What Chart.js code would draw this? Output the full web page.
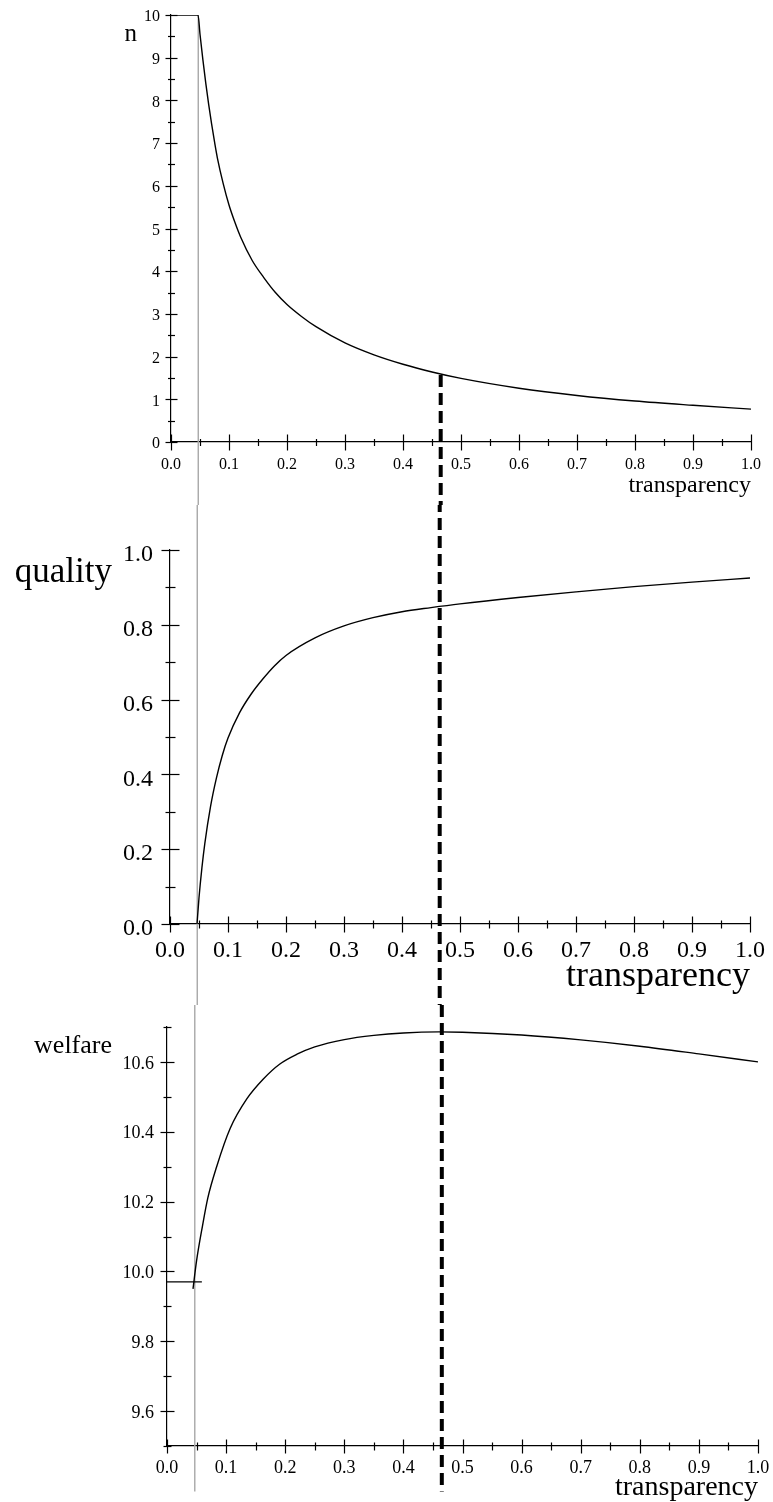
<!DOCTYPE html>
<html>
<head>
<meta charset="utf-8">
<script src="https://cdn.jsdelivr.net/npm/chart.js@4.4.1/dist/chart.umd.min.js"></script>
<style>
  html, body { margin: 0; padding: 0; background: #fff; }
  body { width: 773px; height: 1502px; position: relative; overflow: hidden; }
  canvas { position: absolute; left: 0; }
</style>
</head>
<body>
<canvas id="cN" width="773" height="505" style="top:0px"></canvas>
<canvas id="cQ" width="773" height="500" style="top:505px"></canvas>
<canvas id="cW" width="773" height="497" style="top:1005px"></canvas>
<script>
// ---------- data ----------
const nX = [0, 0.0466, 0.05, 0.055, 0.06, 0.065, 0.07, 0.076, 0.08, 0.09, 0.1, 0.11, 0.12, 0.14, 0.16, 0.18, 0.2, 0.225, 0.25, 0.3, 0.35, 0.4, 0.45, 0.5, 0.6, 0.7, 0.8, 0.9, 1.0];
const nY = [10, 10, 9.55, 8.95, 8.4, 7.9, 7.45, 6.95, 6.65, 6.05, 5.55, 5.15, 4.8, 4.25, 3.85, 3.5, 3.22, 2.94, 2.7, 2.32, 2.04, 1.82, 1.64, 1.49, 1.26, 1.09, 0.96, 0.86, 0.77];

const qX = [0.0466, 0.05, 0.055, 0.06, 0.07, 0.08, 0.09, 0.1, 0.12, 0.14, 0.16, 0.18, 0.2, 0.25, 0.3, 0.35, 0.4, 0.45, 0.5, 0.6, 0.7, 0.8, 0.9, 1.0];
const qY = [0, 0.07, 0.15, 0.215, 0.315, 0.39, 0.45, 0.497, 0.565, 0.615, 0.655, 0.69, 0.718, 0.765, 0.797, 0.819, 0.835, 0.846, 0.856, 0.873, 0.888, 0.902, 0.914, 0.925];

const wX = [0.044, 0.05, 0.06, 0.069, 0.084, 0.107, 0.135, 0.163, 0.191, 0.22, 0.25, 0.3, 0.35, 0.4, 0.46, 0.5, 0.6, 0.7, 0.8, 0.9, 1.0];
const wY = [9.95, 10.03, 10.13, 10.21, 10.30, 10.41, 10.494, 10.551, 10.594, 10.622, 10.643, 10.664, 10.676, 10.683, 10.686, 10.685, 10.677, 10.663, 10.645, 10.623, 10.60];

const wFloorX = [0, 0.059];
const wFloorY = [9.97, 9.97];

const thresholdX = 0.047;   // grey vertical line
const optimumX = 0.465;     // dashed vertical line
const optimumN = 1.57;      // where dashed line starts on n curve

const xTickLabels = ['0.0','0.1','0.2','0.3','0.4','0.5','0.6','0.7','0.8','0.9','1.0'];
const nTickLabels = ['0','1','2','3','4','5','6','7','8','9','10'];
const qTickLabels = ['0.0','0.2','0.4','0.6','0.8','1.0'];
const wTickLabels = ['9.6','9.8','10.0','10.2','10.4','10.6'];

// ---------- helpers ----------
const SERIF = '"Liberation Serif", "Times New Roman", serif';
const pts = (xs, ys) => xs.map((x, i) => ({ x, y: ys[i] }));

const crossTicks = {
  id: 'crossTicks',
  afterDraw(chart, args, o) {
    const ctx = chart.ctx;
    const xs = chart.scales.x, ys = chart.scales.y;
    const ca = chart.chartArea;
    const ay = Math.round(ca.bottom) + 0.5, ax = Math.round(ca.left) + 0.5;
    ctx.save();
    ctx.strokeStyle = '#000';
    ctx.lineWidth = 1.2;
    xs.ticks.forEach(t => {
      const p = Math.round(xs.getPixelForValue(t.value)) + 0.5;
      const len = t.label !== '' ? o.xMajor : o.xMinor;
      ctx.beginPath(); ctx.moveTo(p, ay - len); ctx.lineTo(p, ay + len); ctx.stroke();
    });
    ys.ticks.forEach(t => {
      const p = Math.round(ys.getPixelForValue(t.value)) + 0.5;
      const len = t.label !== '' ? o.yMajor : o.yMinor;
      ctx.beginPath(); ctx.moveTo(ax - len, p); ctx.lineTo(ax + len, p); ctx.stroke();
    });
    ctx.fillStyle = '#000';
    ctx.font = o.titleSize + 'px ' + SERIF;
    ctx.textAlign = 'right';
    ctx.textBaseline = 'alphabetic';
    ctx.fillText(o.title, ca.left - o.titleDx, ca.top + o.titleDy);
    ctx.restore();
  }
};

function labelFrom(list, digits) {
  return v => {
    const s = v.toFixed(digits);
    if (Math.abs(parseFloat(s) - v) > 1e-6) return '';
    return list.includes(s) ? s : '';
  };
}

function makeChart(id, cfg) {
  return new Chart(document.getElementById(id), {
    type: 'line',
    data: { datasets: cfg.datasets },
    plugins: [crossTicks],
    options: {
      responsive: false,
      maintainAspectRatio: false,
      animation: false,
      layout: { padding: cfg.padding, autoPadding: false },
      elements: { point: { radius: 0, hoverRadius: 0 }, line: { borderCapStyle: 'butt' } },
      plugins: {
        legend: { display: false },
        tooltip: { enabled: false },
        crossTicks: cfg.ticksOpt
      },
      scales: {
        x: {
          type: 'linear', min: 0, max: 1,
          grid: { display: false, drawTicks: false, tickLength: 0 },
          border: { display: true, color: '#000', width: 1.2 },
          ticks: {
            stepSize: 0.05, autoSkip: false, maxRotation: 0, color: '#000',
            font: { family: SERIF, size: cfg.xFont }, padding: cfg.xPad,
            callback: labelFrom(xTickLabels, 1)
          },
          title: {
            display: true, text: 'transparency', align: 'end', color: '#000',
            font: { family: SERIF, size: cfg.xTitleSize, lineHeight: 1 },
            padding: { top: 0, bottom: cfg.xTitlePad }
          },
          afterFit: s => { s.height = cfg.xHeight; s.paddingLeft = 0; s.paddingRight = 0; }
        },
        y: {
          type: 'linear', min: cfg.yMin, max: cfg.yMax,
          grid: { display: false, drawTicks: false, tickLength: 0 },
          border: { display: true, color: '#000', width: 1.2 },
          ticks: {
            stepSize: cfg.yStep, autoSkip: false, color: '#000',
            font: { family: SERIF, size: cfg.yFont }, padding: cfg.yPad,
            labelOffset: cfg.yLabelOffset,
            callback: labelFrom(cfg.yLabels, cfg.yDigits)
          },
          afterFit: s => { s.width = cfg.yWidth; s.paddingTop = 0; s.paddingBottom = 0; }
        }
      }
    }
  });
}

const curveStyle = { borderColor: '#000', borderWidth: 1.4, fill: false, cubicInterpolationMode: 'monotone' };
const greyStyle = { borderColor: '#a8a8a8', borderWidth: 1.4, fill: false, clip: false, order: 5 };
const dashStyle = { borderColor: '#000', borderWidth: 4, borderDash: [12, 6], fill: false, clip: false, order: 0 };

// ---------- top: n ----------
makeChart('cN', {
  padding: { top: 15, right: 22, bottom: 0, left: 0 },
  yWidth: 171, xHeight: 63,
  yMin: 0, yMax: 10, yStep: 0.5, yLabels: nTickLabels, yDigits: 0,
  xFont: 16, yFont: 16, xPad: 13, yPad: 11, yLabelOffset: 2,
  xTitleSize: 24, xTitlePad: 7,
  ticksOpt: { xMajor: 8, xMinor: 3.5, yMajor: 6, yMinor: 3.5, title: 'n', titleSize: 25, titleDx: 34, titleDy: 26 },
  datasets: [
    { ...greyStyle, data: [{ x: thresholdX, y: 10 }, { x: thresholdX, y: -5 }] },
    { ...curveStyle, order: 1, data: pts(nX, nY) },
    { ...dashStyle, data: [{ x: optimumX, y: optimumN }, { x: optimumX, y: -5 }] }
  ]
});

// ---------- middle: quality ----------
makeChart('cQ', {
  padding: { top: 45, right: 23, bottom: 0, left: 0 },
  yWidth: 170, xHeight: 81,
  yMin: 0, yMax: 1, yStep: 0.1, yLabels: qTickLabels, yDigits: 1,
  xFont: 24, yFont: 24, xPad: 12, yPad: 17, yLabelOffset: 5,
  xTitleSize: 36, xTitlePad: 10,
  ticksOpt: { xMajor: 8, xMinor: 4, yMajor: 9, yMinor: 5, title: 'quality', titleSize: 35, titleDx: 58, titleDy: 32 },
  datasets: [
    { ...greyStyle, data: [{ x: thresholdX, y: 2 }, { x: thresholdX, y: -2 }] },
    { ...curveStyle, order: 1, data: pts(qX, qY) },
    { ...dashStyle, data: [{ x: optimumX, y: 2 }, { x: optimumX, y: -2 }] }
  ]
});

// ---------- bottom: welfare ----------
makeChart('cW', {
  padding: { top: 22, right: 15, bottom: 0, left: 0 },
  yWidth: 167, xHeight: 56,
  yMin: 9.5, yMax: 10.7, yStep: 0.1, yLabels: wTickLabels, yDigits: 1,
  xFont: 18, yFont: 18, xPad: 11, yPad: 13, yLabelOffset: 2,
  xTitleSize: 28, xTitlePad: 0,
  ticksOpt: { xMajor: 7, xMinor: 4, yMajor: 7, yMinor: 4, title: 'welfare', titleSize: 26, titleDx: 55, titleDy: 26 },
  datasets: [
    { ...greyStyle, data: [{ x: thresholdX, y: 12 }, { x: thresholdX, y: 9.37 }] },
    { ...curveStyle, order: 1, borderWidth: 1.2, data: pts(wFloorX, wFloorY) },
    { ...curveStyle, order: 1, data: pts(wX, wY) },
    { ...dashStyle, data: [{ x: optimumX, y: 12 }, { x: optimumX, y: 9.37 }] }
  ]
});
</script>
</body>
</html>
